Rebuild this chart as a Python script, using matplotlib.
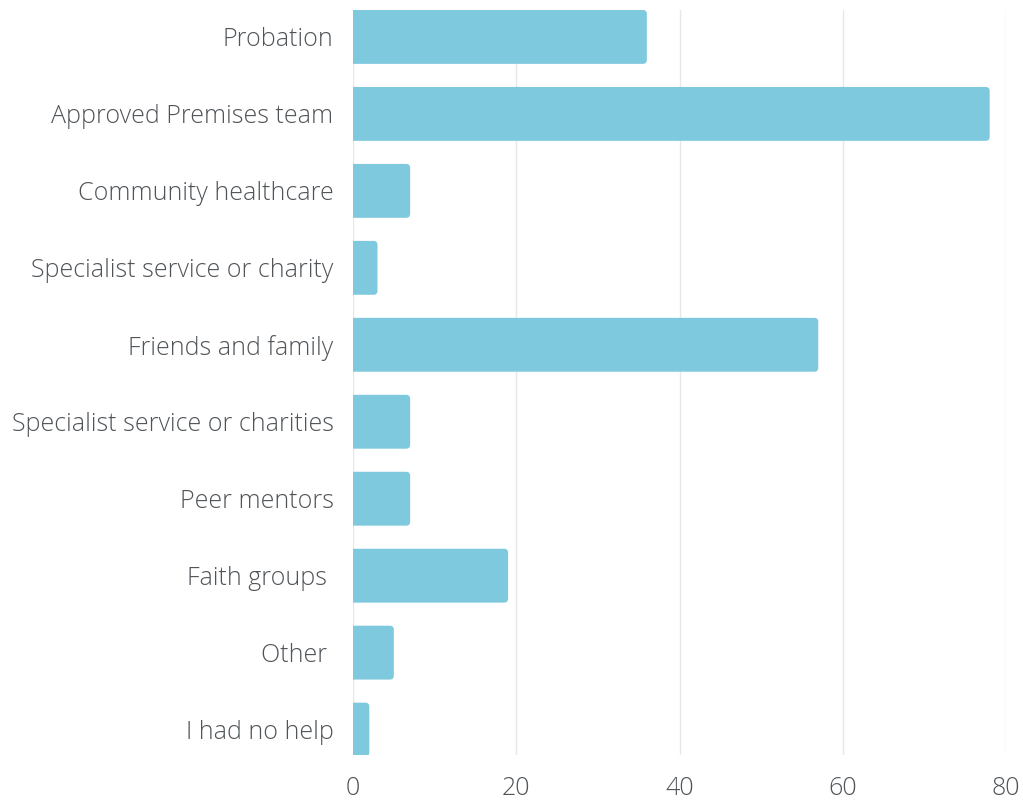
import matplotlib
matplotlib.use("Agg")
import matplotlib.pyplot as plt
from matplotlib.patches import FancyBboxPatch

plt.rcParams['font.family'] = ['Open Sans', 'DejaVu Sans']

categories = [
    "Probation",
    "Approved Premises team",
    "Community healthcare",
    "Specialist service or charity",
    "Friends and family",
    "Specialist service or charities",
    "Peer mentors",
    "Faith groups ",
    "Other ",
    "I had no help",
]
values = [36, 78, 7, 3, 57, 7, 7, 19, 5, 2]
x_ticks = [0, 20, 40, 60, 80]

bar_color = "#7ec9dd"
text_color = "#4f5458"
grid_color = "#e8e8e8"

fig = plt.figure(figsize=(10.23, 8.01), dpi=100)
ax = fig.add_axes([353 / 1023, 1 - 755 / 801, (1006 - 353) / 1023, (755 - 10) / 801])

bar_h = 0.7
bars = ax.barh(range(len(categories)), values, height=bar_h, color=bar_color)

ax.set_xlim(0, 80)
ax.set_ylim(9.33, -0.35)

# swap plain rectangles for ones with rounded ends
r_px = 4.0
fig.canvas.draw()
x_unit = ax.transData.transform((1, 0))[0] - ax.transData.transform((0, 0))[0]
y_unit = abs(ax.transData.transform((0, 1))[1] - ax.transData.transform((0, 0))[1])
rx = r_px / x_unit
ry = r_px / y_unit
for b in bars:
    x0, y0 = b.get_x(), b.get_y()
    w, h = b.get_width(), b.get_height()
    b.set_visible(False)
    p = FancyBboxPatch((x0 - rx, y0), w + rx, h,
                       boxstyle=f"round,pad=0,rounding_size={rx}",
                       mutation_aspect=ry / rx,
                       facecolor=bar_color, edgecolor="none", zorder=2)
    ax.add_patch(p)

ax.set_xticks(x_ticks)
ax.set_xticklabels([str(t) for t in x_ticks])
ax.set_yticks(range(len(categories)))
ax.set_yticklabels(categories)

for s in ax.spines.values():
    s.set_visible(False)
ax.tick_params(axis='both', length=0, colors=text_color, labelsize=18)
ax.tick_params(axis='y', pad=14)
ax.tick_params(axis='x', pad=15)
for lbl in ax.get_xticklabels() + ax.get_yticklabels():
    lbl.set_fontweight('light')
    lbl.set_color(text_color)

ax.set_axisbelow(True)
ax.xaxis.grid(True, color=grid_color, linewidth=1)
ax.yaxis.grid(False)

fig.savefig("out.png", dpi=100)
